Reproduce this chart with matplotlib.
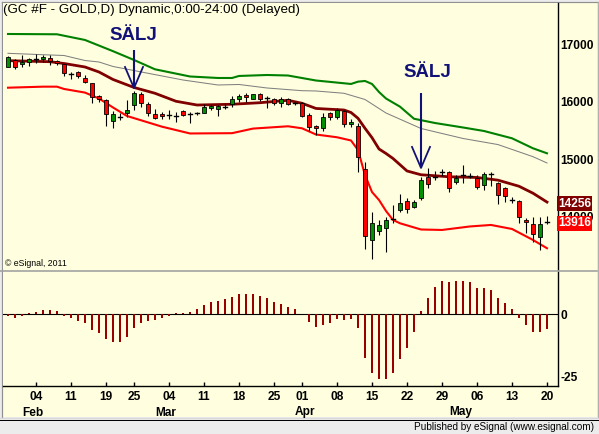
import matplotlib
matplotlib.use("Agg")
import matplotlib.pyplot as plt
from matplotlib.patches import Rectangle
from matplotlib.lines import Line2D
import matplotlib.transforms as mtransforms

plt.rcParams['font.family'] = ['Liberation Sans', 'DejaVu Sans']

# ---------------- data ----------------
opens = [16610, 16727, 16650, 16690, 16745, 16740, 16757, 16710, 16650, 16480,
         16520, 16410, 16320, 16100, 16030, 15660, 15740, 15800, 15940, 16135,
         15960, 15780, 15790, 15770, 15750, 15835, 15790, 15800, 15810, 15890,
         15870, 15915, 15965, 16040, 16115, 16055, 16135, 16060, 16045, 15985,
         16045, 15985, 15985, 15765, 15575, 15550, 15810, 15730, 15840, 15615,
         15580, 14825, 13595, 13760, 13800, 13960, 14110, 14275, 14165, 14320,
         14690, 14700, 14780, 14775, 14600, 14720, 14715, 14680, 14555, 14740,
         14585, 14495, 14290, 14280, 13945, 13870, 13655, 13916]
highs = [16790, 16740, 16815, 16757, 16830, 16810, 16810, 16720, 16660, 16525,
         16540, 16465, 16330, 16110, 16045, 15845, 15800, 16030, 16190, 16175,
         16000, 15870, 15830, 15860, 15830, 15850, 15830, 15830, 15970, 15970,
         15945, 15970, 16100, 16140, 16150, 16140, 16160, 16100, 16070, 16080,
         16060, 16020, 16000, 15800, 15600, 15810, 15830, 15890, 15860, 15700,
         15625, 14960, 14080, 13945, 14000, 14200, 14405, 14320, 14295, 14690,
         14855, 14800, 14830, 14800, 14725, 14900, 14760, 14735, 14780, 14775,
         14610, 14520, 14350, 14290, 13985, 14000, 14000, 14015]
lows = [16600, 16565, 16600, 16620, 16680, 16690, 16635, 16645, 16450, 16390,
        16420, 16330, 15980, 15990, 15580, 15550, 15685, 15730, 15850, 15915,
        15755, 15695, 15695, 15695, 15655, 15760, 15625, 15770, 15800, 15860,
        15755, 15870, 15915, 15990, 16000, 16040, 16010, 15890, 15940, 15915,
        15940, 15950, 15740, 15500, 15420, 15500, 15685, 15700, 15570, 15570,
        14785, 13440, 13270, 13685, 13395, 13900, 14075, 14070, 14150, 14290,
        14505, 14640, 14710, 14435, 14570, 14580, 14670, 14485, 14470, 14540,
        14225, 14265, 14235, 13900, 13715, 13565, 13420, 13875]
closes = [16775, 16600, 16690, 16740, 16745, 16775, 16705, 16670, 16495, 16480,
          16450, 16350, 16090, 16040, 15795, 15790, 15740, 15860, 16150, 15975,
          15800, 15725, 15750, 15770, 15750, 15770, 15790, 15800, 15915, 15925,
          15925, 15915, 16040, 16100, 16080, 16135, 16055, 16060, 15975, 16045,
          15960, 15985, 15760, 15555, 15540, 15740, 15730, 15860, 15615, 15655,
          15035, 13665, 13900, 13860, 13945, 13960, 14235, 14130, 14260, 14640,
          14565, 14700, 14780, 14495, 14680, 14720, 14715, 14525, 14745, 14740,
          14380, 14360, 14290, 14000, 13905, 13695, 13870, 13916]

green_idx = [0, 7, 11, 15, 18, 21, 26, 30, 32, 33, 37, 40, 44, 49, 50, 51, 52, 53,
             54, 56, 58, 61, 65, 68, 72, 75, 77]
green_val = [17179, 17174, 17075, 16880, 16727, 16565, 16440, 16414, 16414, 16449,
             16466, 16457, 16370, 16310, 16350, 16362, 16310, 16170, 16057, 15915,
             15705, 15631, 15553, 15492, 15365, 15191, 15104]
gray_idx = [0, 6, 8, 11, 13, 15, 20, 25, 30, 33, 37, 42, 44, 48, 51, 54, 59, 65,
            70, 75, 77]
gray_val = [16843, 16814, 16805, 16718, 16692, 16614, 16496, 16379, 16292, 16301,
            16240, 16193, 16188, 16148, 16040, 15805, 15536, 15362, 15256, 15045,
            14936]
maroon_idx = [0, 6, 8, 11, 13, 15, 18, 21, 24, 27, 32, 36, 40, 42, 44, 48, 49, 50,
              51, 52, 53, 54, 55, 57, 59, 63, 67, 70, 73, 75, 77]
maroon_val = [16715, 16697, 16666, 16605, 16518, 16388, 16249, 16148, 16009, 15944,
              15957, 15984, 16026, 15974, 15884, 15857, 15814, 15713, 15539, 15376,
              15179, 15101, 15014, 14797, 14731, 14696, 14684, 14637, 14531, 14410,
              14256]
red_idx = [0, 5, 7, 8, 11, 13, 15, 17, 22, 26, 32, 35, 40, 42, 44, 47, 49, 50, 51,
           52, 53, 54, 55, 56, 59, 62, 66, 69, 72, 75, 77]
red_val = [16245, 16263, 16263, 16223, 16160, 16057, 15901, 15753, 15567, 15449,
           15454, 15534, 15574, 15539, 15431, 15383, 15327, 15162, 14727, 14431,
           14292, 14101, 13945, 13887, 13779, 13771, 13832, 13858, 13788, 13597,
           13453]

osc = [-0.5, -1.3, -0.5, 0.6, 0.9, 1.7, 1.7, 1.3, -0.5, -1.3,
       -2.5, -3.6, -6.3, -7.6, -9.8, -11.0, -11.0, -9.0, -5.4, -3.4,
       -2.5, -2.3, -1.3, -0.5, 0.4, 0.7, 0.9, 2.1, 3.9, 4.9,
       5.3, 6.1, 7.1, 8.1, 8.1, 8.1, 7.3, 6.5, 4.9, 4.1,
       2.9, 2.1, 0.3, -3.0, -5.0, -4.3, -3.4, -1.7, -2.3, -1.7,
       -5.4, -17.5, -23.4, -26.0, -26.0, -23.6, -18.0, -13.4, -7.0, 1.3,
       6.4, 10.8, 13.5, 13.1, 13.5, 13.5, 12.8, 10.4, 10.4, 9.6,
       6.4, 4.4, 2.0, -1.3, -4.3, -7.0, -7.0, -5.8]

day_idx = [4, 9, 14, 18, 23, 28, 33, 38, 42, 47, 52, 57, 62, 67, 72, 77]
day_labels = ['04', '11', '19', '25', '04', '11', '18', '25', '01', '08', '15',
              '22', '29', '06', '13', '20']
month_start_idx = [3, 22, 42, 64]
month_labels = ['Feb', 'Mar', 'Apr', 'May']

price_ticks = [14000, 15000, 16000, 17000]
osc_ticks = [0, -25]

sell_idx = [18, 59]
sell_tip = [16240, 14850]
sell_top = [16900, 16150]
sell_text = [17150, 16510]

last_ma = 14256
last_close = 13916

title = "(GC #F - GOLD,D) Dynamic,0:00-24:00 (Delayed)"

# ---------------- layout ----------------
W, H = 599, 434
YEL = '#FFFFE0'
fig = plt.figure(figsize=(W / 100, H / 100), dpi=100)
fig.patch.set_facecolor('#ececec')


def fx(x):
    return x / W


def fy(y):
    return 1 - y / H


fig.add_artist(Rectangle((fx(2), fy(417)), 595 / W, 415 / H, transform=fig.transFigure,
                         fc=YEL, ec='none', zorder=-5))
# frame lines
for (x0, y0, x1, y1, c, lw) in [(1.5, 1.5, 597.5, 1.5, '#909090', 1.2),
                               (1.5, 1.5, 1.5, 417, '#909090', 1.2),
                               (597.5, 1.5, 597.5, 417, '#b0b0b0', 1.2),
                               (0, 270.5, 597, 270.5, '#a0a0a0', 1.6),
                               (0, 418, 599, 418, '#d8d8d8', 1.4),
                               (0, 420, 599, 420, '#000000', 1.0)]:
    fig.add_artist(Line2D([fx(x0), fx(x1)], [fy(y0), fy(y1)], transform=fig.transFigure,
                          color=c, lw=lw * 0.72, zorder=-4))

ax1 = fig.add_axes([fx(3), fy(269), (558 - 3) / W, (269 - 3) / H])
ax2 = fig.add_axes([fx(3), fy(386), (558 - 3) / W, (386 - 272) / H])

xl = ((3 - 8) / 7, (558 - 8) / 7)
for ax in (ax1, ax2):
    ax.set_facecolor(YEL)
    ax.set_xlim(*xl)
    for s in ('top', 'left', 'bottom'):
        ax.spines[s].set_visible(False)
    ax.spines['right'].set_color('black')
    ax.spines['right'].set_linewidth(1.0)
    ax.yaxis.tick_right()
    ax.tick_params(axis='y', length=0, pad=1.5, labelsize=8.6)
    for lab in ax.get_yticklabels():
        lab.set_fontweight('bold')

ax1.set_ylim(13092, 17718)
ax2.set_ylim(-28.73, 16.95)
ax2.spines['bottom'].set_visible(True)
ax2.spines['bottom'].set_linewidth(1.0)

# ---------------- upper panel ----------------
ax1.plot(green_idx, green_val, color='#008000', lw=1.5, zorder=2)
ax1.plot(gray_idx, gray_val, color='#808080', lw=0.75, zorder=2)
ax1.plot(maroon_idx, maroon_val, color='#800000', lw=2.0, zorder=2)
ax1.plot(red_idx, red_val, color='#ff0000', lw=1.5, zorder=2)

bw = 0.7
for i, (o, h, l, c) in enumerate(zip(opens, highs, lows, closes)):
    ax1.plot([i, i], [l, h], color='black', lw=0.8, zorder=3, solid_capstyle='butt')
    if o == c:
        ax1.plot([i - bw / 2, i + bw / 2], [o, o], color='black', lw=1.0, zorder=4)
    else:
        col = '#009000' if c > o else '#ff0000'
        ax1.add_patch(Rectangle((i - bw / 2, min(o, c)), bw, abs(c - o), fc=col,
                                ec='black', lw=0.6, zorder=4))

ax1.set_yticks(price_ticks, [str(t) for t in price_ticks])
for lab in ax1.get_yticklabels():
    lab.set_fontweight('bold')
ax1.set_xticks([])

NAVY = '#111177'
px_x = 1 / 7.0
px_y = 17.39
for si, tip, top, tp in zip(sell_idx, sell_tip, sell_top, sell_text):
    ax1.plot([si, si], [top, tip], color=NAVY, lw=1.5, zorder=6, solid_capstyle='butt')
    ax1.plot([si - 9 * px_x, si, si + 9 * px_x], [tip + 21 * px_y, tip, tip + 21 * px_y],
             color=NAVY, lw=1.3, zorder=6)
ax1.text(sell_idx[0] - 1 * px_x, sell_text[0], 'SÄLJ', color=NAVY, fontsize=13.5,
         fontweight='bold', ha='center', va='center', zorder=7)
ax1.text(sell_idx[1] + 6 * px_x, sell_text[1], 'SÄLJ', color=NAVY, fontsize=13.5,
         fontweight='bold', ha='center', va='center', zorder=7)

btrans = mtransforms.blended_transform_factory(ax1.transAxes, ax1.transData)
for val, fc in [(last_ma, '#800000'), (last_close, '#ff0000')]:
    ax1.text(1.0, val, str(val), transform=btrans, color='white', fontsize=8.6,
             fontweight='bold', ha='left', va='center_baseline', clip_on=False, zorder=20,
             bbox=dict(boxstyle='square,pad=0.12', fc=fc, ec='none'))

# ---------------- lower panel ----------------
ax2.bar(range(len(osc)), osc, width=0.3, color='#990000', zorder=3)
ax2.axhline(0, color='black', lw=0.8, zorder=2)
ax2.set_yticks(osc_ticks, [str(t) for t in osc_ticks])
for lab in ax2.get_yticklabels():
    lab.set_fontweight('bold')
ax2.set_xticks(day_idx, [''] * len(day_idx))
ax2.tick_params(axis='x', direction='in', length=3, width=1.0)

xtrans = mtransforms.blended_transform_factory(ax2.transData, fig.transFigure)
for d, lab in zip(day_idx, day_labels):
    ax2.text(d, fy(400), lab, transform=xtrans, ha='center', va='baseline',
             fontsize=8.6, fontweight='bold', clip_on=False)
for m, lab in zip(month_start_idx, month_labels):
    ax2.text(m - 1, fy(415.5), lab, transform=xtrans, ha='left', va='baseline',
             fontsize=8.6, fontweight='bold', clip_on=False)

# ---------------- texts ----------------
fig.text(fx(3), fy(10), title, ha='left', va='center', fontsize=9.6, color='black')
fig.text(fx(5), fy(264), '© eSignal, 2011', ha='left', va='center', fontsize=6.3)
fig.text(fx(594), fy(426.5), 'Published by eSignal (www.esignal.com)', ha='right',
         va='center', fontsize=7.2)

fig.savefig('out.png', dpi=100, facecolor=fig.get_facecolor())
